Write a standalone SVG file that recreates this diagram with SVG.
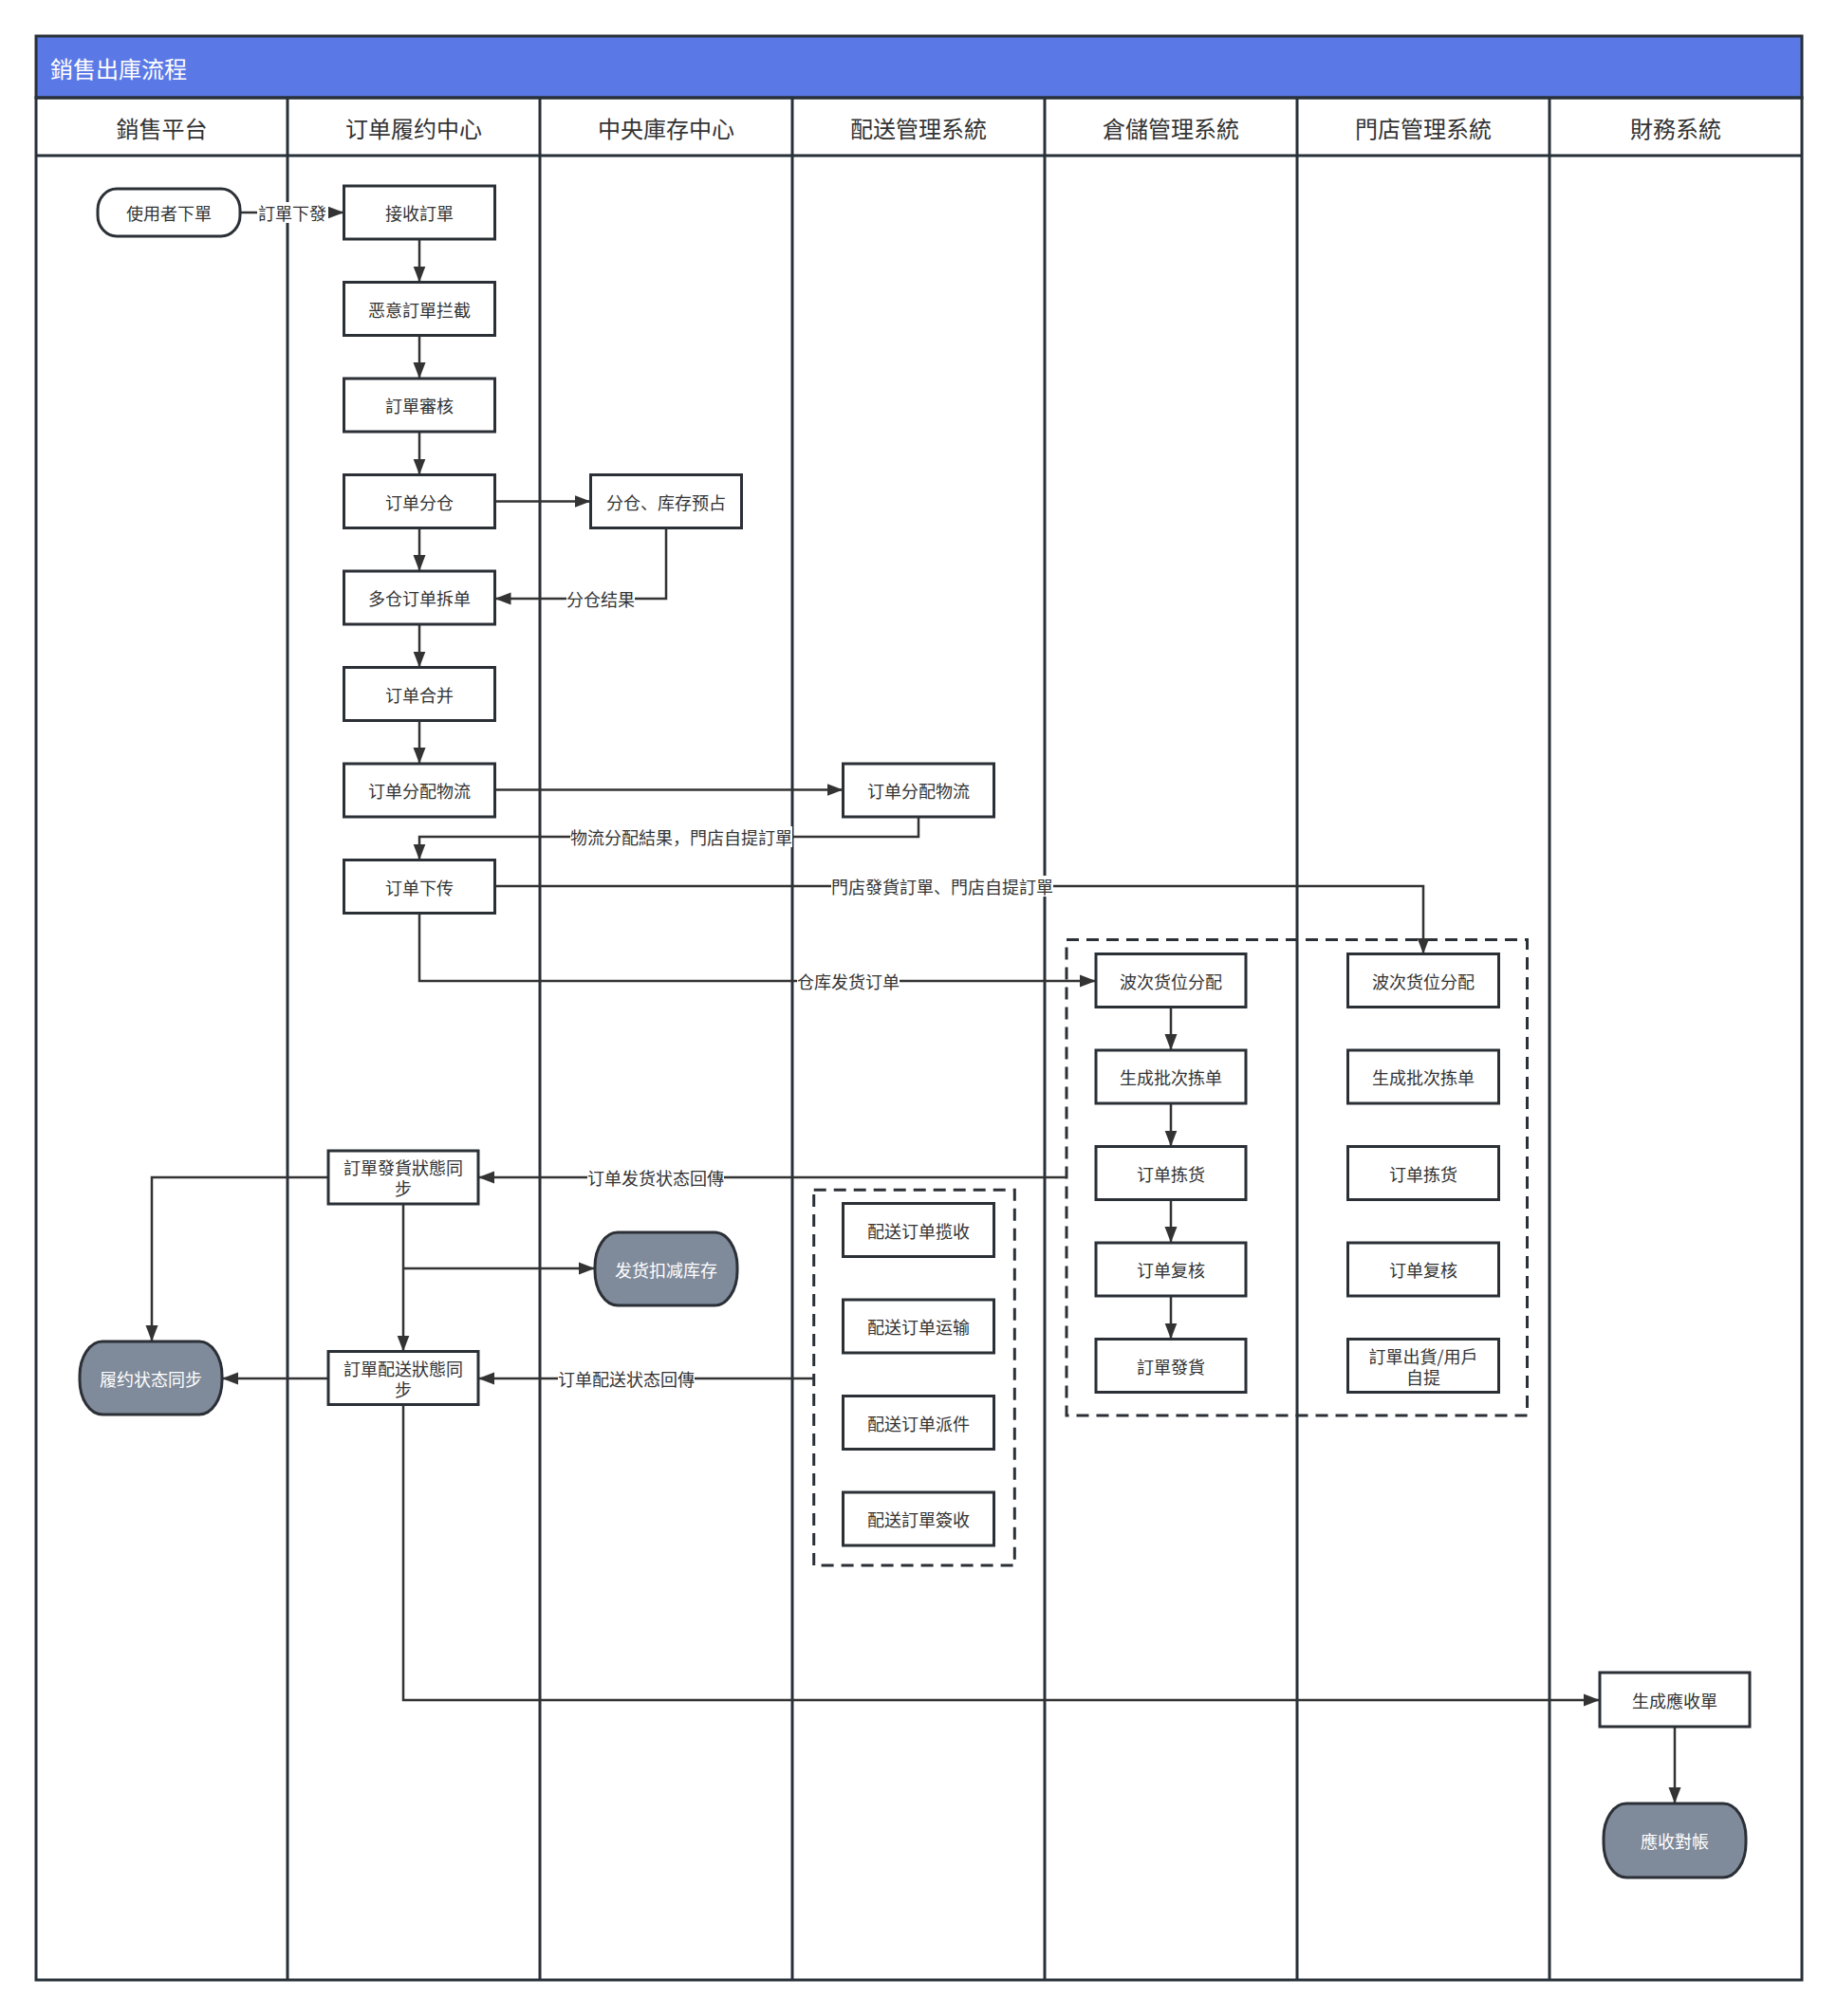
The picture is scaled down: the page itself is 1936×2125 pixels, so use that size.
<svg xmlns="http://www.w3.org/2000/svg" width="1936" height="2125" viewBox="0 0 1936 2125">
<defs>
<marker id="arr" markerUnits="userSpaceOnUse" markerWidth="18" markerHeight="14" refX="17" refY="7" orient="auto">
<path d="M0,0.5 L17,7 L0,13.5 z" fill="#333333"/>
</marker>
<style>
text{font-family:"Noto Sans CJK SC","Noto Sans CJK TC",sans-serif;}
.frame{fill:none;stroke:#283039;stroke-width:3;}
.lane{stroke:#283039;stroke-width:3;}
.hdr{font-size:24px;fill:#333333;text-anchor:middle;dominant-baseline:central;}
.title{font-size:24px;fill:#ffffff;dominant-baseline:central;}
.box{fill:#ffffff;stroke:#2b3036;stroke-width:3;}
.term{fill:#ffffff;stroke:#2b3036;stroke-width:3;}
.gterm{fill:#7f8a9a;stroke:#2b3036;stroke-width:3;}
.t{font-size:18px;fill:#333333;text-anchor:middle;dominant-baseline:central;}
.tw{font-size:18px;fill:#ffffff;text-anchor:middle;dominant-baseline:central;}
.dash{fill:none;stroke:#2b3036;stroke-width:3;stroke-dasharray:13 8;}
.c{fill:none;stroke:#333333;stroke-width:2.5;}
.ca{fill:none;stroke:#333333;stroke-width:2.5;marker-end:url(#arr);}
.lbg{fill:#ffffff;}
.lt{font-size:18px;fill:#333333;text-anchor:middle;dominant-baseline:central;}
</style>
</defs>
<rect x="0" y="0" width="1936" height="2125" fill="#ffffff"/>

<g id="pool">
<rect x="38" y="38" width="1861" height="65" fill="#5b79e6" stroke="#283039" stroke-width="3"/>
<text class="title" x="53" y="71">銷售出庫流程</text>
<rect class="frame" x="38" y="103" width="1861" height="1984"/>
<line class="lane" x1="38" y1="164" x2="1899" y2="164"/>
<line class="lane" x1="303" y1="103" x2="303" y2="2087"/>
<line class="lane" x1="569" y1="103" x2="569" y2="2087"/>
<line class="lane" x1="835" y1="103" x2="835" y2="2087"/>
<line class="lane" x1="1101" y1="103" x2="1101" y2="2087"/>
<line class="lane" x1="1367" y1="103" x2="1367" y2="2087"/>
<line class="lane" x1="1633" y1="103" x2="1633" y2="2087"/>
<text class="hdr" x="170.5" y="134">銷售平台</text>
<text class="hdr" x="436" y="134">订单履约中心</text>
<text class="hdr" x="702" y="134">中央庫存中心</text>
<text class="hdr" x="968" y="134">配送管理系統</text>
<text class="hdr" x="1234" y="134">倉儲管理系統</text>
<text class="hdr" x="1500" y="134">門店管理系統</text>
<text class="hdr" x="1766" y="134">財務系統</text>
</g>

<g id="groups">
<rect id="grp-delivery" class="dash" x="857.7" y="1254.3" width="211.6" height="395.7"/>
<rect id="grp-warehouse" class="dash" x="1124" y="990.5" width="485.5" height="501.5"/>
</g>

<g id="connectors">
<path class="ca" d="M253,224 H362.5"/>
<path class="ca" d="M442,252 V297.5"/>
<path class="ca" d="M442,353.5 V399"/>
<path class="ca" d="M442,455 V500.5"/>
<path class="ca" d="M521.5,528.5 H622.5"/>
<path class="ca" d="M442,556.5 V602"/>
<path class="ca" d="M702,556.5 V631 H521.5"/>
<path class="ca" d="M442,658 V703.5"/>
<path class="ca" d="M442,759.5 V805"/>
<path class="ca" d="M521.5,832.5 H888.5"/>
<path class="ca" d="M968,861 V882 H442 V906.5"/>
<path class="ca" d="M521.5,934 H1500 V1005.5"/>
<path class="ca" d="M442,962.5 V1034 H1155"/>
<path class="ca" d="M1234,1061.5 V1107"/>
<path class="ca" d="M1234,1163 V1208.5"/>
<path class="ca" d="M1234,1264.5 V1310"/>
<path class="ca" d="M1234,1366 V1411.5"/>
<path class="ca" d="M1124,1241 H504"/>
<path class="ca" d="M346,1241 H160 V1414"/>
<path class="ca" d="M425,1337 H627"/>
<path class="ca" d="M425,1269 V1424.5"/>
<path class="ca" d="M857.7,1453 H504"/>
<path class="ca" d="M346,1453 H234"/>
<path class="ca" d="M425,1480.5 V1792 H1686"/>
<path class="ca" d="M1765,1820 V1901"/>
<rect class="lbg" x="271" y="213" width="75" height="22"/>
<text class="lt" x="308" y="224">訂單下發</text>
<rect class="lbg" x="597" y="620" width="72" height="22"/>
<text class="lt" x="633" y="631">分仓结果</text>
<rect class="lbg" x="601" y="871" width="234" height="22"/>
<text class="lt" x="718" y="882">物流分配結果，門店自提訂單</text>
<rect class="lbg" x="876" y="923" width="234" height="22"/>
<text class="lt" x="993" y="934">門店發貨訂單、門店自提訂單</text>
<rect class="lbg" x="840" y="1023" width="108" height="22"/>
<text class="lt" x="894" y="1034">仓库发货订单</text>
<rect class="lbg" x="619" y="1230" width="144" height="22"/>
<text class="lt" x="691" y="1241">订单发货状态回傳</text>
<rect class="lbg" x="588" y="1442" width="144" height="22"/>
<text class="lt" x="660" y="1453">订单配送状态回傳</text>
</g>

<g id="n-user-order"><rect class="term" x="103" y="199" width="150" height="50" rx="20" ry="22"/><text class="t" x="178" y="224">使用者下單</text></g>
<g id="n-receive"><rect class="box" x="362.5" y="196" width="159" height="56"/><text class="t" x="442" y="224">接收訂單</text></g>
<g id="n-intercept"><rect class="box" x="362.5" y="297.5" width="159" height="56"/><text class="t" x="442" y="325.5">恶意訂單拦截</text></g>
<g id="n-review"><rect class="box" x="362.5" y="399" width="159" height="56"/><text class="t" x="442" y="427">訂單審核</text></g>
<g id="n-split-wh"><rect class="box" x="362.5" y="500.5" width="159" height="56"/><text class="t" x="442" y="528.5">订单分仓</text></g>
<g id="n-multi-split"><rect class="box" x="362.5" y="602" width="159" height="56"/><text class="t" x="442" y="630">多仓订单拆单</text></g>
<g id="n-merge"><rect class="box" x="362.5" y="703.5" width="159" height="56"/><text class="t" x="442" y="731.5">订单合并</text></g>
<g id="n-assign-log"><rect class="box" x="362.5" y="805" width="159" height="56"/><text class="t" x="442" y="833">订单分配物流</text></g>
<g id="n-dispatch"><rect class="box" x="362.5" y="906.5" width="159" height="56"/><text class="t" x="442" y="934.5">订单下传</text></g>
<g id="n-stock-reserve"><rect class="box" x="622.5" y="500.5" width="159" height="56"/><text class="t" x="702" y="528.5">分仓、库存预占</text></g>
<g id="n-dlv-assign"><rect class="box" x="888.5" y="805" width="159" height="56"/><text class="t" x="968" y="833">订单分配物流</text></g>
<g id="n-wms-wave"><rect class="box" x="1155" y="1005.5" width="158" height="56"/><text class="t" x="1234" y="1033.5">波次货位分配</text></g>
<g id="n-wms-pick-list"><rect class="box" x="1155" y="1107" width="158" height="56"/><text class="t" x="1234" y="1135">生成批次拣单</text></g>
<g id="n-wms-pick"><rect class="box" x="1155" y="1208.5" width="158" height="56"/><text class="t" x="1234" y="1236.5">订单拣货</text></g>
<g id="n-wms-check"><rect class="box" x="1155" y="1310" width="158" height="56"/><text class="t" x="1234" y="1338">订单复核</text></g>
<g id="n-wms-ship"><rect class="box" x="1155" y="1411.5" width="158" height="56"/><text class="t" x="1234" y="1439.5">訂單發貨</text></g>
<g id="n-store-wave"><rect class="box" x="1420.5" y="1005.5" width="159" height="56"/><text class="t" x="1500" y="1033.5">波次货位分配</text></g>
<g id="n-store-pick-list"><rect class="box" x="1420.5" y="1107" width="159" height="56"/><text class="t" x="1500" y="1135">生成批次拣单</text></g>
<g id="n-store-pick"><rect class="box" x="1420.5" y="1208.5" width="159" height="56"/><text class="t" x="1500" y="1236.5">订单拣货</text></g>
<g id="n-store-check"><rect class="box" x="1420.5" y="1310" width="159" height="56"/><text class="t" x="1500" y="1338">订单复核</text></g>
<g id="n-store-ship"><rect class="box" x="1420.5" y="1411.5" width="159" height="56"/><text class="t" x="1500" y="1428.5">訂單出貨/用戶</text><text class="t" x="1500" y="1450.5">自提</text></g>
<g id="n-dlv-collect"><rect class="box" x="888.5" y="1268.5" width="159" height="56"/><text class="t" x="968" y="1296.5">配送订单揽收</text></g>
<g id="n-dlv-transport"><rect class="box" x="888.5" y="1370" width="159" height="56"/><text class="t" x="968" y="1398">配送订单运输</text></g>
<g id="n-dlv-deliver"><rect class="box" x="888.5" y="1471.5" width="159" height="56"/><text class="t" x="968" y="1499.5">配送订单派件</text></g>
<g id="n-dlv-sign"><rect class="box" x="888.5" y="1573" width="159" height="56"/><text class="t" x="968" y="1601">配送訂單簽收</text></g>
<g id="n-ship-sync"><rect class="box" x="346" y="1213" width="158" height="56"/><text class="t" x="425" y="1230">訂單發貨狀態同</text><text class="t" x="425" y="1252">步</text></g>
<g id="n-dlv-sync"><rect class="box" x="346" y="1424.5" width="158" height="56"/><text class="t" x="425" y="1441.5">訂單配送狀態同</text><text class="t" x="425" y="1463.5">步</text></g>
<g id="n-fulfil-sync"><rect class="gterm" x="84" y="1414" width="150" height="77" rx="24" ry="36"/><text class="tw" x="159" y="1452.5">履约状态同步</text></g>
<g id="n-deduct"><rect class="gterm" x="627" y="1299" width="150" height="77" rx="24" ry="36"/><text class="tw" x="702" y="1337.5">发货扣减库存</text></g>
<g id="n-receivable"><rect class="box" x="1686" y="1763" width="158" height="57"/><text class="t" x="1765" y="1791.5">生成應收單</text></g>
<g id="n-reconcile"><rect class="gterm" x="1690" y="1901" width="150" height="78" rx="24" ry="36"/><text class="tw" x="1765" y="1940">應收對帳</text></g>
</svg>
